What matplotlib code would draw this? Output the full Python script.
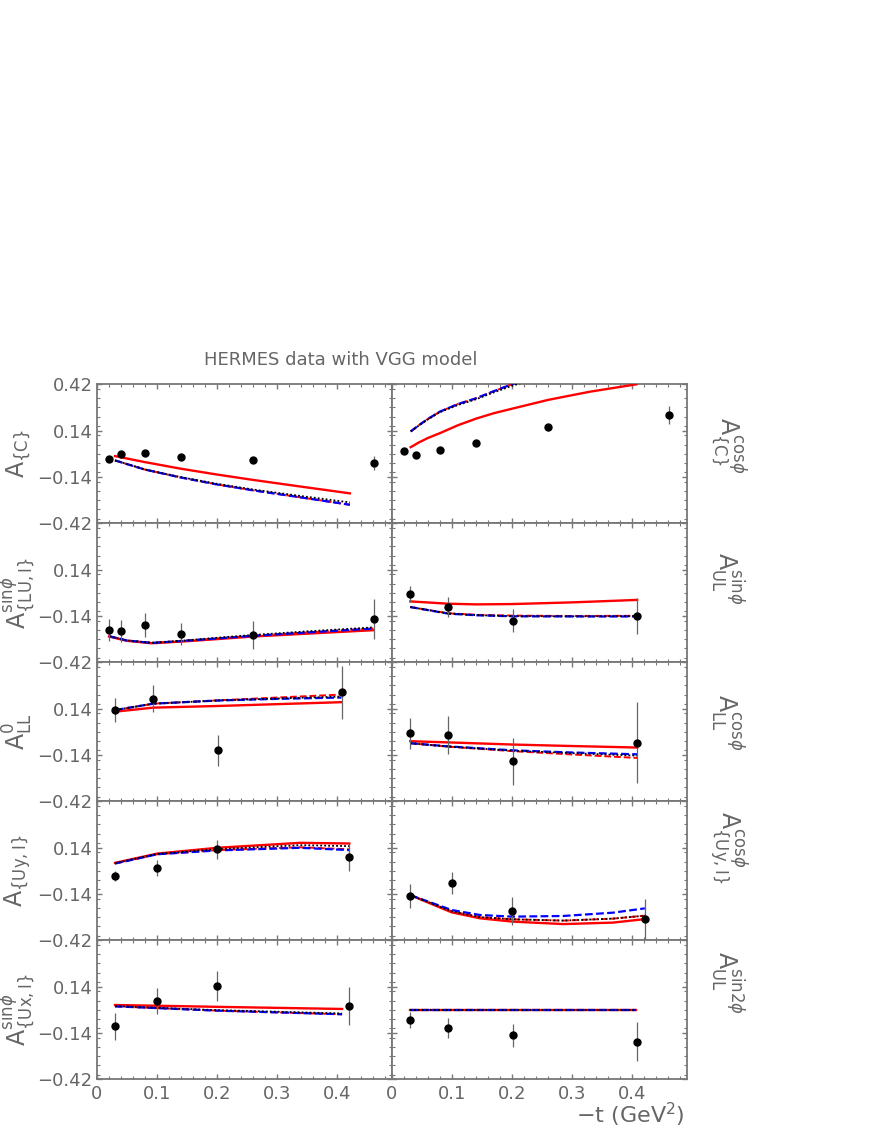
import numpy as np
import matplotlib.pyplot as plt
from matplotlib.ticker import MultipleLocator, FixedLocator, FixedFormatter

# ---- data points (HERMES) ----
t_c = [0.020, 0.0405, 0.080, 0.1405, 0.261, 0.4617]
a_c = [-0.030, 0.000, 0.002, -0.020, -0.036, -0.056]
e_c = [0.015, 0.012, 0.012, 0.015, 0.018, 0.040]
a_c_cos = [0.016, -0.010, 0.020, 0.066, 0.159, 0.233]
e_c_cos = [0.012, 0.012, 0.012, 0.015, 0.020, 0.054]

t_lu = [0.0205, 0.0405, 0.0805, 0.1405, 0.261, 0.4617]
a_lu_sin = [-0.226, -0.232, -0.193, -0.248, -0.254, -0.159]
e_lu_sin = [0.066, 0.065, 0.073, 0.067, 0.083, 0.121]

t_4 = [0.031, 0.0944, 0.2017, 0.409]
a_ul_sin = [-0.007, -0.086, -0.169, -0.141]
e_ul_sin = [0.050, 0.060, 0.070, 0.110]
a_ll_0 = [0.132, 0.201, -0.112, 0.239]
e_ll_0 = [0.070, 0.080, 0.095, 0.160]
a_ll_cos = [-0.010, -0.018, -0.179, -0.065]
e_ll_cos = [0.095, 0.115, 0.144, 0.245]
a_ul_sin2 = [-0.061, -0.110, -0.154, -0.192]
e_ul_sin2 = [0.050, 0.063, 0.068, 0.117]

t_uy = [0.0305, 0.101, 0.201, 0.421]
a_uy = [-0.034, 0.018, 0.131, 0.082]
e_uy = [0.030, 0.048, 0.057, 0.085]
a_ux_sin = [-0.100, 0.053, 0.144, 0.023]
e_ux_sin = [0.083, 0.080, 0.088, 0.116]
t_uy_cos = [0.031, 0.100, 0.201, 0.422]
a_uy_cos = [-0.151, -0.074, -0.243, -0.294]
e_uy_cos = [0.073, 0.068, 0.082, 0.125]

# ---- VGG model curves: red solid, red dashed, blue dashed, black dotted ----
m_c_t = [0.0305, 0.08, 0.14, 0.20, 0.261, 0.33, 0.422]
m_c_red = [-0.014, -0.050, -0.090, -0.125, -0.158, -0.193, -0.239]
m_c_redd = [-0.040, -0.095, -0.143, -0.185, -0.221, -0.258, -0.308]
m_c_blue = [-0.040, -0.095, -0.143, -0.185, -0.221, -0.258, -0.308]
m_c_dot = [-0.040, -0.094, -0.141, -0.181, -0.216, -0.250, -0.294]

m_ccos_t = [0.0317, 0.045, 0.060, 0.0805, 0.11, 0.141, 0.17, 0.20, 0.261, 0.33, 0.408]
m_ccos_red = [0.040, 0.068, 0.095, 0.125, 0.172, 0.213, 0.245, 0.272, 0.326, 0.375, 0.420]
m_ccos_redd = [0.135, 0.172, 0.210, 0.255, 0.300, 0.336, 0.378, 0.420, 0.490, 0.560, 0.630]
m_ccos_blue = [0.135, 0.172, 0.210, 0.255, 0.300, 0.336, 0.378, 0.420, 0.490, 0.560, 0.630]
m_ccos_dot = [0.135, 0.170, 0.207, 0.252, 0.294, 0.330, 0.371, 0.410, 0.480, 0.550, 0.620]

m_lu_t = [0.0205, 0.05, 0.0917, 0.14, 0.20, 0.261, 0.35, 0.461]
m_lu_red = [-0.264, -0.290, -0.305, -0.295, -0.280, -0.264, -0.247, -0.226]
m_lu_redd = [-0.262, -0.288, -0.303, -0.292, -0.276, -0.260, -0.240, -0.216]
m_lu_blue = [-0.262, -0.288, -0.303, -0.292, -0.276, -0.260, -0.240, -0.216]
m_lu_dot = [-0.262, -0.288, -0.302, -0.290, -0.272, -0.255, -0.233, -0.209]

m_ul_t = [0.031, 0.0944, 0.142, 0.2017, 0.30, 0.409]
m_ul_red = [-0.052, -0.066, -0.070, -0.068, -0.058, -0.043]
m_ul_redd = [-0.086, -0.124, -0.133, -0.138, -0.140, -0.139]
m_ul_blue = [-0.086, -0.126, -0.136, -0.142, -0.143, -0.143]
m_ul_dot = [-0.086, -0.125, -0.135, -0.141, -0.142, -0.141]

m_ll_t = [0.0317, 0.0944, 0.2017, 0.30, 0.408]
m_ll_red = [0.122, 0.146, 0.156, 0.167, 0.179]
m_ll_redd = [0.132, 0.170, 0.190, 0.207, 0.225]
m_ll_blue = [0.132, 0.170, 0.189, 0.199, 0.207]
m_ll_dot = [0.132, 0.170, 0.189, 0.201, 0.213]

m_llcos_t = [0.031, 0.0944, 0.2017, 0.30, 0.409]
m_llcos_red = [-0.057, -0.064, -0.077, -0.086, -0.095]
m_llcos_redd = [-0.069, -0.090, -0.117, -0.137, -0.158]
m_llcos_blue = [-0.069, -0.088, -0.112, -0.125, -0.136]
m_llcos_dot = [-0.069, -0.089, -0.114, -0.129, -0.144]

m_uy_t = [0.0305, 0.101, 0.201, 0.339, 0.421]
m_uy_red = [0.048, 0.104, 0.139, 0.169, 0.165]
m_uy_redd = [0.044, 0.100, 0.125, 0.142, 0.130]
m_uy_blue = [0.044, 0.100, 0.123, 0.139, 0.125]
m_uy_dot = [0.046, 0.102, 0.131, 0.155, 0.149]

m_uycos_t = [0.031, 0.100, 0.147, 0.201, 0.286, 0.369, 0.422]
m_uycos_red = [-0.147, -0.251, -0.287, -0.307, -0.322, -0.313, -0.292]
m_uycos_redd = [-0.147, -0.245, -0.280, -0.293, -0.301, -0.289, -0.271]
m_uycos_blue = [-0.147, -0.237, -0.267, -0.277, -0.273, -0.253, -0.227]
m_uycos_dot = [-0.147, -0.245, -0.280, -0.293, -0.301, -0.289, -0.271]

m_ux_t = [0.0305, 0.20, 0.409]
m_ux_red = [0.029, 0.018, 0.005]
m_ux_redd = [0.021, -0.005, -0.027]
m_ux_blue = [0.021, -0.005, -0.027]
m_ux_dot = [0.022, -0.002, -0.022]

m_ul2_t = [0.031, 0.408]
m_ul2_red = [0.0, 0.0]
m_ul2_redd = [0.0, 0.0]
m_ul2_blue = [0.0, 0.0]
m_ul2_dot = [0.0, 0.0]

y_ticks = [-0.42, -0.14, 0.14, 0.42]
y_ticklabels = ['\u22120.42', '\u22120.14', '0.14', '0.42']
x_ticks = [0, 0.1, 0.2, 0.3, 0.4]
x_ticklabels = ['0', '0.1', '0.2', '0.3', '0.4']

left_labels = [r'$\mathrm{A}_{\{\mathrm{C}\}}$',
               r'$\mathrm{A}^{\mathrm{sin}\phi}_{\{\mathrm{LU,I}\}}$',
               r'$\mathrm{A}^{0}_{\mathrm{LL}}$',
               r'$\mathrm{A}_{\{\mathrm{Uy,I}\}}$',
               r'$\mathrm{A}^{\mathrm{sin}\phi}_{\{\mathrm{Ux,I}\}}$']
right_labels = [r'$\mathrm{A}^{\mathrm{cos}\phi}_{\{\mathrm{C}\}}$',
                r'$\mathrm{A}^{\mathrm{sin}\phi}_{\mathrm{UL}}$',
                r'$\mathrm{A}^{\mathrm{cos}\phi}_{\mathrm{LL}}$',
                r'$\mathrm{A}^{\mathrm{cos}\phi}_{\{\mathrm{Uy,I}\}}$',
                r'$\mathrm{A}^{\mathrm{sin2}\phi}_{\mathrm{UL}}$']
right_label_y = [445, 578, 722, 847, 982]

panels = [
    [(t_c, a_c, e_c, m_c_t, m_c_red, m_c_redd, m_c_blue, m_c_dot),
     (t_c, a_c_cos, e_c_cos, m_ccos_t, m_ccos_red, m_ccos_redd, m_ccos_blue, m_ccos_dot)],
    [(t_lu, a_lu_sin, e_lu_sin, m_lu_t, m_lu_red, m_lu_redd, m_lu_blue, m_lu_dot),
     (t_4, a_ul_sin, e_ul_sin, m_ul_t, m_ul_red, m_ul_redd, m_ul_blue, m_ul_dot)],
    [(t_4, a_ll_0, e_ll_0, m_ll_t, m_ll_red, m_ll_redd, m_ll_blue, m_ll_dot),
     (t_4, a_ll_cos, e_ll_cos, m_llcos_t, m_llcos_red, m_llcos_redd, m_llcos_blue, m_llcos_dot)],
    [(t_uy, a_uy, e_uy, m_uy_t, m_uy_red, m_uy_redd, m_uy_blue, m_uy_dot),
     (t_uy_cos, a_uy_cos, e_uy_cos, m_uycos_t, m_uycos_red, m_uycos_redd, m_uycos_blue, m_uycos_dot)],
    [(t_uy, a_ux_sin, e_ux_sin, m_ux_t, m_ux_red, m_ux_redd, m_ux_blue, m_ux_dot),
     (t_4, a_ul_sin2, e_ul_sin2, m_ul2_t, m_ul2_red, m_ul2_redd, m_ul2_blue, m_ul2_dot)],
]

plt.rcParams['mathtext.fontset'] = 'dejavusans'
gray = '#666666'
frame = '#777777'

W, H = 872, 1128
fig = plt.figure(figsize=(W / 100, H / 100), dpi=100)

x0 = [96.7, 391.7]
pw = 295.0
top = 384.3
ph = 139.0

for r in range(5):
    for c in range(2):
        t, a, e, mt, mred, mredd, mblue, mdot = panels[r][c]
        ax = fig.add_axes([x0[c] / W, 1 - (top + (r + 1) * ph) / H, pw / W, ph / H])
        ax.plot(mt, mred, color='red', lw=1.7, zorder=3)
        ax.plot(mt, mredd, color='red', lw=1.4, dashes=(3.5, 1.5), zorder=3)
        ax.plot(mt, mblue, color='blue', lw=1.6, dashes=(3.5, 1.5), zorder=4)
        ax.plot(mt, mdot, color='black', lw=1.3, dashes=(1, 1.2), zorder=4)
        ax.errorbar(t, a, yerr=e, fmt='o', color='black', ms=5, ecolor=gray,
                    elinewidth=0.9, capsize=0, zorder=5)
        ax.set_xlim(0, 0.4917)
        ax.set_ylim(-0.42, 0.42)
        ax.xaxis.set_major_locator(FixedLocator(x_ticks))
        ax.xaxis.set_minor_locator(MultipleLocator(0.02))
        ax.yaxis.set_major_locator(FixedLocator(y_ticks))
        ax.yaxis.set_minor_locator(MultipleLocator(0.056))
        ax.tick_params(which='both', direction='in', top=True, right=True,
                       color=frame, labelcolor=gray, labelsize=13)
        ax.tick_params(which='major', length=3.5, width=1)
        ax.tick_params(which='minor', length=2, width=0.8)
        ax.tick_params(axis='y', pad=3)
        ax.tick_params(axis='x', pad=4)
        for s in ax.spines.values():
            s.set_color(frame)
            s.set_linewidth(1.3)
        if c == 0:
            labs = list(y_ticklabels)
            if r > 0:
                labs[3] = ''
            ax.yaxis.set_major_formatter(FixedFormatter(labs))
        else:
            ax.set_yticklabels([])
        if r == 4:
            ax.xaxis.set_major_formatter(FixedFormatter(x_ticklabels))
        else:
            ax.set_xticklabels([])

    yc = top + (r + 0.5) * ph
    fig.text(18 / W, 1 - yc / H, left_labels[r], rotation=90, ha='center', va='center',
             fontsize=17, color=gray)
    fig.text(728 / W, 1 - right_label_y[r] / H, right_labels[r], rotation=-90,
             ha='center', va='center', fontsize=17, color=gray)

fig.text(341 / W, 1 - 360 / H, 'HERMES data with VGG model', ha='center', va='center',
         fontsize=13, color=gray)
fig.text(685 / W, 1 - 1115 / H, '\u2212t (GeV$^2$)', ha='right', va='center',
         fontsize=16, color=gray)

fig.savefig('out.png', dpi=100)
